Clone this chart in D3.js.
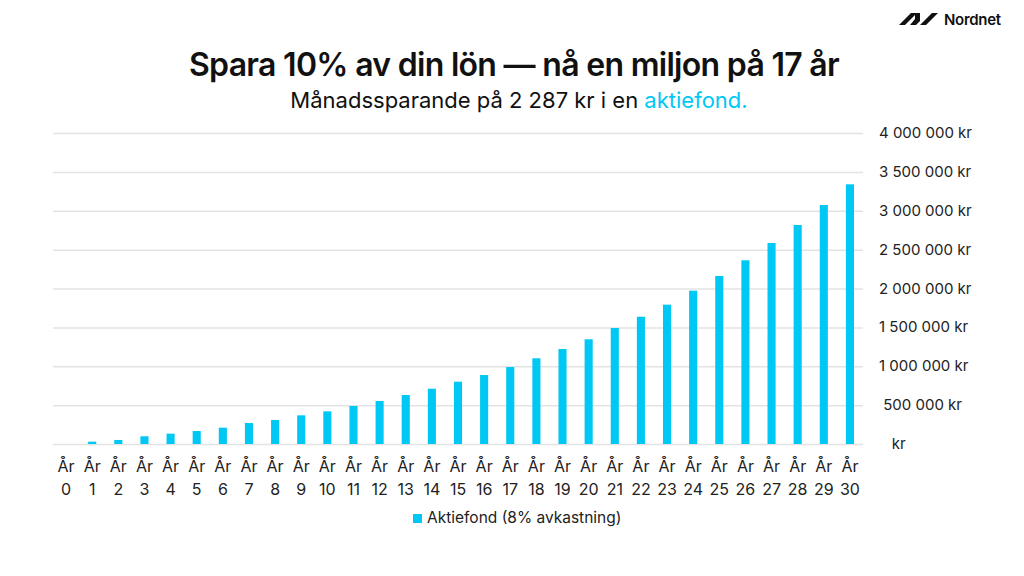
<!DOCTYPE html>
<html>
<head>
<meta charset="utf-8">
<script src="https://cdn.jsdelivr.net/npm/d3@7"></script>
<style>
  body { margin: 0; background: #fff; }
  svg { display: block; font-family: Inter, "Liberation Sans", sans-serif; }
</style>
</head>
<body>
<div id="chart"></div>
<script>
// data
var years = d3.range(0, 31)
var yearLabels = years.map(function(y) { return "År " + y })
var values = [0, 30000, 52000, 99000, 133000, 167000, 210000, 270000, 309000, 369000,
	420000, 489000, 553000, 630000, 711000, 801000, 887000, 990000, 1102000, 1222000,
	1347000, 1492000, 1637000, 1792000, 1972000, 2161000, 2363000, 2585000, 2817000, 3074000, 3340000]
var yTicks = [0, 500000, 1000000, 1500000, 2000000, 2500000, 3000000, 3500000, 4000000]
var seriesName = "Aktiefond (8% avkastning)"

var w = 1024, h = 576
var cyan = "#00c8f4"

var svg = d3.select("#chart")
	.append("svg")
	.attr("width", w)
	.attr("height", h)

// scales
var x = d3.scaleBand()
	.domain(years)
	.range([53, 863])
	.paddingInner(0.69)
	.paddingOuter(0.345)

var y = d3.scaleLinear()
	.domain([0, 4000000])
	.range([444, 133])

// gridlines
svg.append("g")
	.selectAll("line")
	.data(yTicks)
	.enter()
	.append("line")
	.attr("x1", 53)
	.attr("x2", 863)
	.attr("y1", function(d) { return y(d) + 0.5 })
	.attr("y2", function(d) { return y(d) + 0.5 })
	.style("stroke", "#e3e3e3")
	.style("stroke-width", 1.5)

// bars
svg.append("g")
	.selectAll("rect")
	.data(values)
	.enter()
	.append("rect")
	.attr("x", function(d, i) { return x(years[i]) })
	.attr("width", x.bandwidth())
	.attr("y", function(d) { return y(d) })
	.attr("height", function(d) { return y(0) - y(d) })
	.style("fill", cyan)

// y labels (excel style, left aligned with padding spaces)
var fmt = d3.formatLocale({ thousands: " ", grouping: [3], decimal: ",", currency: ["", " kr"] }).format(",")
function yLabel(d) {
	if (d == 0) return "   kr"
	var s = fmt(d) + " kr"
	if (d < 1000000) s = " " + s
	return s
}
svg.append("g")
	.selectAll("text")
	.data(yTicks)
	.enter()
	.append("text")
	.attr("x", 879)
	.attr("y", function(d) { return y(d) + 5 })
	.style("white-space", "pre")
	.attr("xml:space", "preserve")
	.style("font-size", "15px")
	.style("fill", "#222")
	.text(yLabel)

// x labels, two lines
var xl = svg.append("g")
	.selectAll("text")
	.data(yearLabels)
	.enter()
	.append("text")
	.attr("text-anchor", "middle")
	.attr("transform", function(d, i) { return "translate(" + (x(years[i]) + x.bandwidth() / 2) + ",0)" })
	.style("font-size", "16px")
	.style("fill", "#222")

xl.append("tspan")
	.attr("x", 0)
	.attr("y", 472)
	.text(function(d) { return d.split(" ")[0] })
xl.append("tspan")
	.attr("x", 0)
	.attr("y", 495)
	.text(function(d) { return d.split(" ")[1] })

// legend
svg.append("rect")
	.attr("x", 413)
	.attr("y", 514)
	.attr("width", 9)
	.attr("height", 9)
	.style("fill", cyan)
svg.append("text")
	.attr("x", 427)
	.attr("y", 523)
	.style("font-size", "15.5px")
	.style("fill", "#222")
	.text(seriesName)

// title + subtitle
svg.append("text")
	.attr("x", 514)
	.attr("y", 76)
	.attr("text-anchor", "middle")
	.style("font-size", "32px")
	.style("font-weight", 600)
	.style("letter-spacing", "-0.7px")
	.style("fill", "#111")
	.text("Spara 10% av din lön — nå en miljon på 17 år")

var sub = svg.append("text")
	.attr("x", 519)
	.attr("y", 108)
	.attr("text-anchor", "middle")
	.style("font-size", "22px")
	.style("fill", "#111")
sub.append("tspan").text("Månadssparande på 2 287 kr i en ")
sub.append("tspan").style("fill", cyan).text("aktiefond.")

// logo
var logo = svg.append("g")
var slashes = [
	[[899, 25], [905, 25], [917, 13], [911, 13]],
	[[910, 25], [916, 25], [920, 21], [920, 13], [915, 13], [915, 19]],
	[[920, 25], [926, 25], [938, 13], [932, 13]]
]
logo.selectAll("path")
	.data(slashes)
	.enter()
	.append("path")
	.attr("d", function(d) { return "M" + d.join("L") + "Z" })
	.style("fill", "#111")
logo.append("text")
	.attr("x", 944)
	.attr("y", 25)
	.style("font-size", "15px")
	.style("font-weight", 600)
	.style("letter-spacing", "-0.3px")
	.style("fill", "#111")
	.text("Nordnet")
</script>
</body>
</html>
